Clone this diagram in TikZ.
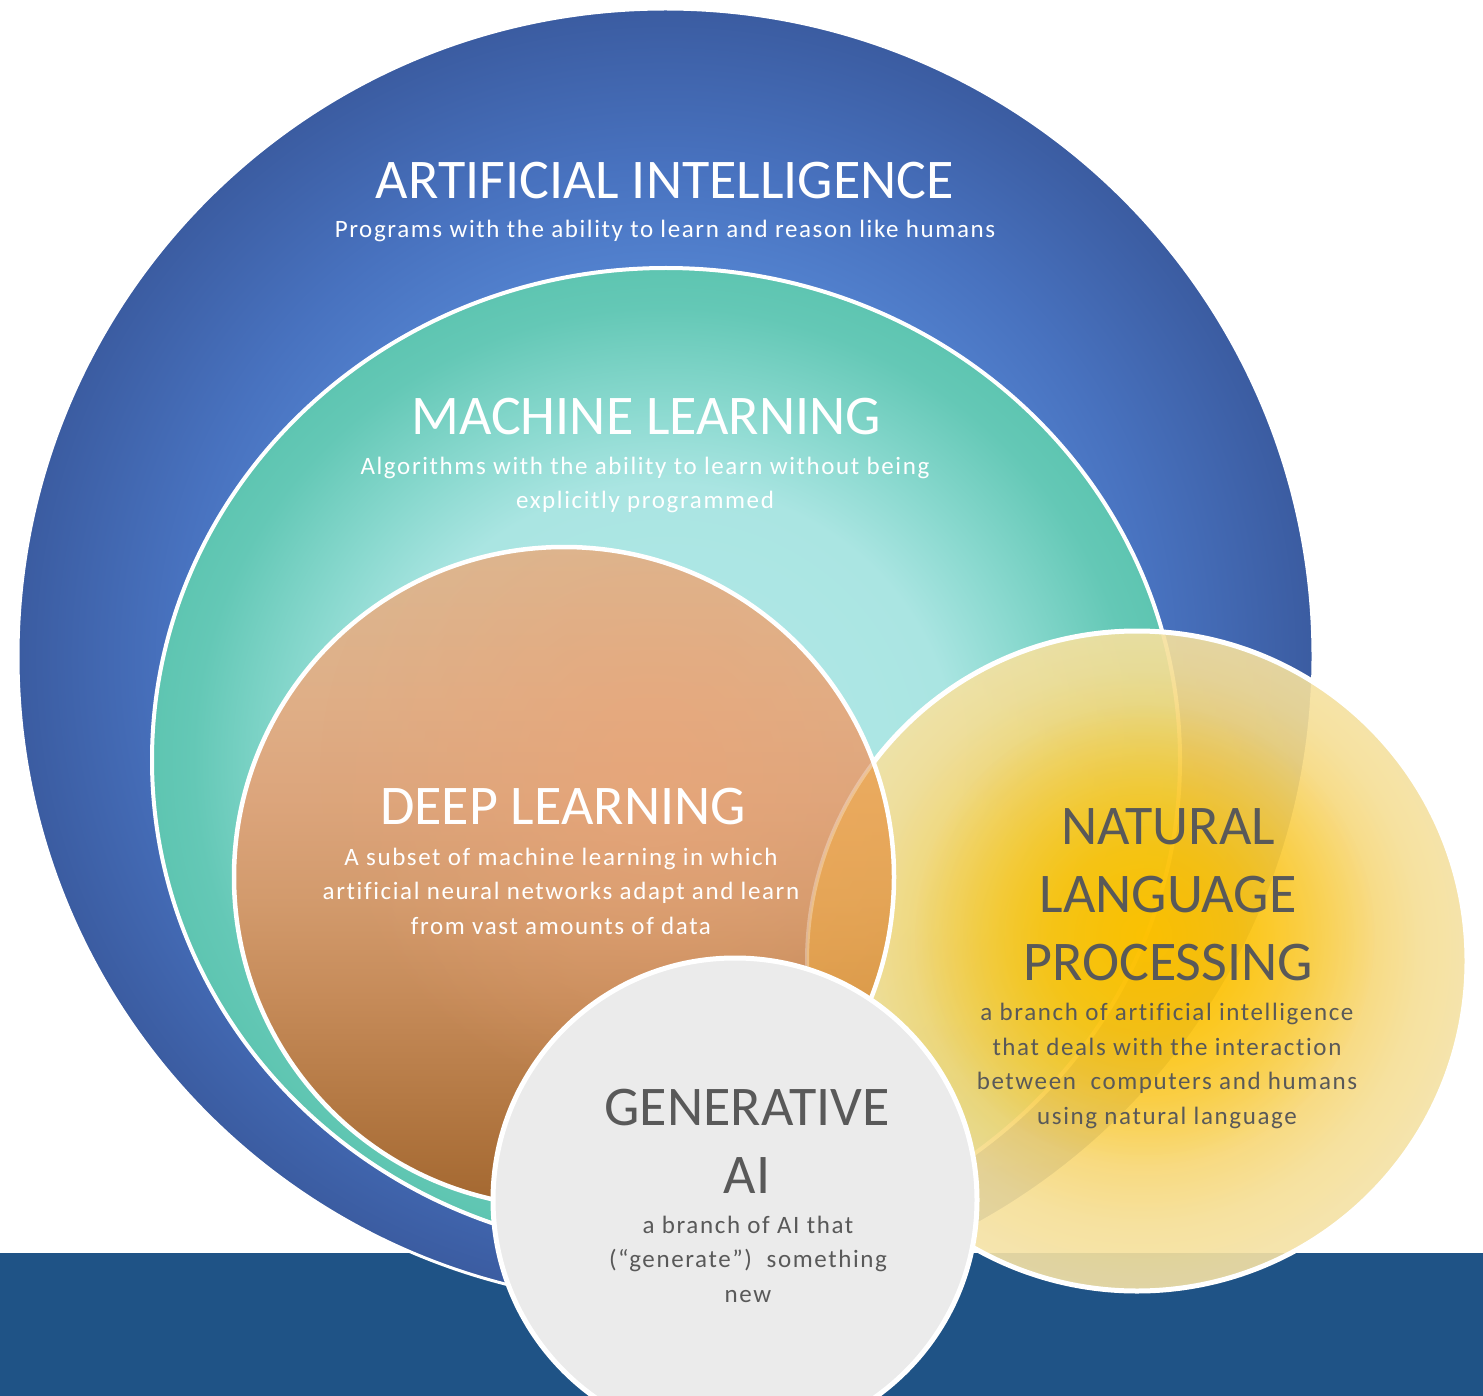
\documentclass[tikz,border=0pt]{standalone}
\usepackage{fontspec}
\setmainfont{Carlito}
\newfontfamily\subfont[LetterSpace=6.5,Ligatures=NoCommon]{Carlito}
\usetikzlibrary{fadings}
\definecolor{bandblue}{HTML}{1F5386}
\definecolor{aiA}{HTML}{5A8AD8}
\definecolor{aiB}{HTML}{5281CE}
\definecolor{aiC}{HTML}{4872BF}
\definecolor{aiD}{HTML}{3B5CA1}
\definecolor{mlA}{HTML}{B2E9E9}
\definecolor{mlB}{HTML}{AAE5E2}
\definecolor{mlC}{HTML}{8AD9CF}
\definecolor{mlD}{HTML}{64C8B6}
\definecolor{mlE}{HTML}{5EC5B1}
\definecolor{nlA}{HTML}{FDC100}
\definecolor{nlB}{HTML}{FBC71E}
\definecolor{nlC}{HTML}{F9D25C}
\definecolor{nlD}{HTML}{F6DE94}
\definecolor{nlE}{HTML}{F5E3A8}
\definecolor{dlA}{HTML}{A3672F}
\definecolor{dlB}{HTML}{B47944}
\definecolor{dlC}{HTML}{C68B59}
\definecolor{dlD}{HTML}{D29A6C}
\definecolor{dlE}{HTML}{DCA57C}
\definecolor{dlF}{HTML}{DFAE86}
\definecolor{dlG}{HTML}{DBB892}
\definecolor{dlpeach}{HTML}{EBA679}
\definecolor{nlporange}{HTML}{F7B03A}
\definecolor{genfill}{HTML}{EBEBEB}
\definecolor{greytext}{HTML}{595959}
\pgfdeclareradialshading{aishade}{\pgfpoint{0bp}{0bp}}{color(0bp)=(aiA); color(15bp)=(aiB); color(19bp)=(aiC); color(25bp)=(aiD); color(50bp)=(aiD)}
\pgfdeclareradialshading{mlshade}{\pgfpoint{0bp}{0bp}}{color(0bp)=(mlA); color(14bp)=(mlB); color(18bp)=(mlC); color(23bp)=(mlD); color(25bp)=(mlE); color(50bp)=(mlE)}
\pgfdeclareradialshading{nlpshade}{\pgfpoint{0.5bp}{2bp}}{color(0bp)=(nlA); color(7bp)=(nlB); color(14bp)=(nlC); color(21bp)=(nlD); color(26bp)=(nlE); color(50bp)=(nlE)}
\pgfdeclareverticalshading{dlshade}{100bp}{color(0bp)=(dlA); color(25bp)=(dlA); color(33bp)=(dlB); color(41bp)=(dlC); color(48bp)=(dlD); color(56bp)=(dlE); color(63bp)=(dlF); color(75bp)=(dlG); color(100bp)=(dlG)}
\tikzfading[name=peachglow, inner color=transparent!35, outer color=transparent!100]
\tikzfading[name=goldglow, inner color=transparent!15, outer color=transparent!100]
\begin{document}
\begin{tikzpicture}[x=1pt,y=-1pt,
  ttl/.style={font=\fontsize{56}{68}\selectfont, inner sep=0pt, align=center},
  subttl/.style={font=\subfont\fontsize{25}{34.5}\selectfont, inner sep=0pt, align=center},
  rim/.style={draw=white}]
\useasboundingbox (0,0) rectangle (1483,1396);
\fill[white] (0,0) rectangle (1483,1396);
\fill[bandblue] (0,1253) rectangle (1483,1396);
% Artificial intelligence
\shade[shading=aishade] (665.5,656.5) circle[radius=647.5pt];
\draw[rim, line width=3pt] (665.5,656.5) circle[radius=647.5pt];
% Machine learning
\shade[shading=mlshade] (666,760) ellipse[x radius=514pt, y radius=492pt];
\draw[rim, line width=4pt] (666,760) ellipse[x radius=514pt, y radius=492pt];
% Natural language processing
\shade[shading=nlpshade, fill opacity=0.9] (1137,961) circle[radius=330pt];
\begin{scope}
  \clip (1137,961) circle[radius=330pt];
  \fill[nlA, path fading=goldglow] (1145,935) circle[radius=230pt];
\end{scope}
\draw[rim, line width=5pt] (1137,961) circle[radius=330pt];
% Deep learning
\shade[shading=dlshade] (564,877) circle[radius=330pt];
\begin{scope}
  \clip (564,877) circle[radius=330pt];
  \fill[dlpeach, path fading=peachglow] (650,770) circle[radius=330pt];
  \fill[nlporange, fill opacity=0.45] (1137,961) circle[radius=330pt];
  \draw[white, opacity=0.3, line width=4pt] (1137,961) circle[radius=330pt];
\end{scope}
\draw[rim, line width=4.5pt] (564,877) circle[radius=330pt];
% Generative AI
\filldraw[fill=genfill, rim, line width=5pt] (735,1200) circle[radius=242pt];
% Texts
\node[ttl, text=white] (aiT) at (665,181) {ARTIFICIAL INTELLIGENCE};
\node[subttl, text=white] (aiS) at (665,231) {Programs with the ability to learn and reason like humans};
\node[ttl, text=white] (mlT) at (646,417) {MACHINE LEARNING};
\node[subttl, text=white] (mlS) at (645,485) {Algorithms with the ability to learn without being\\explicitly programmed};
\node[ttl, text=white] (dlT) at (563,807) {DEEP LEARNING};
\node[subttl, text=white] (dlS) at (561,891) {A subset of machine learning in which\\artificial neural networks adapt and learn\\from vast amounts of data};
\node[ttl, text=greytext] (nlpT) at (1168,895) {NATURAL\\LANGUAGE\\PROCESSING};
\node[subttl, text=greytext] (nlpS) at (1167,1066) {a branch of artificial intelligence\\that deals with the interaction\\between\ \ computers and humans\\using natural language};
\node[ttl, text=greytext] (genT) at (747,1141.5) {GENERATIVE\\AI};
\node[subttl, text=greytext] (genS) at (748,1259) {a branch of AI that\\(“generate”)\ \ something\\new};
\end{tikzpicture}
\end{document}
